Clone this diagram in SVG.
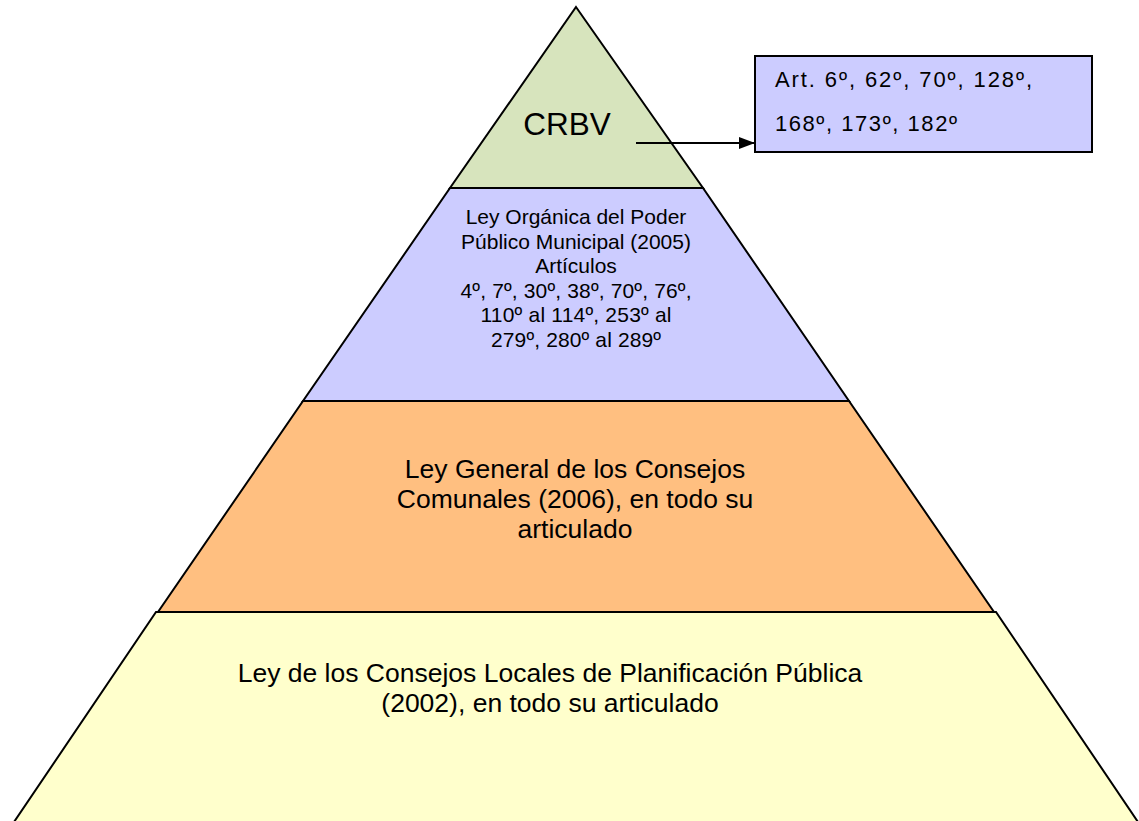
<svg xmlns="http://www.w3.org/2000/svg" width="1139" height="821" viewBox="0 0 1139 821">
<defs>
<style>
.t{font-family:"Liberation Sans",Arial,sans-serif;fill:#000}
.c{text-anchor:middle}
.s{stroke:#000;stroke-width:2;stroke-linejoin:miter}
.b{font-size:21px}
.o{font-size:26.5px}
.a{font-size:22px}
</style>
<marker id="ah" markerWidth="16" markerHeight="12" refX="16" refY="6" orient="auto" markerUnits="userSpaceOnUse">
<path d="M0,0 L16,6 L0,12 Z" fill="#000"/>
</marker>
</defs>
<rect width="1139" height="821" fill="#fff"/>
<g id="level4">
<polygon class="s" points="156,612 996,612 1138,822 14,822" fill="#FFFFCC"/>
<text class="t c o" x="550" y="682">Ley de los Consejos Locales de Planificación Pública</text>
<text class="t c o" x="550" y="712">(2002), en todo su articulado</text>
</g>
<g id="level3">
<polygon class="s" points="303,401 849,401 994,612 158,612" fill="#FFBF80"/>
<text class="t c o" x="575" y="478">Ley General de los Consejos</text>
<text class="t c o" x="575" y="508">Comunales (2006), en todo su</text>
<text class="t c o" x="575" y="538">articulado</text>
</g>
<g id="level2">
<polygon class="s" points="450,188 703,188 849,401 303,401" fill="#CCCCFF"/>
<text class="t c b" x="576" y="224">Ley Orgánica del Poder</text>
<text class="t c b" x="576" y="249">Público Municipal (2005)</text>
<text class="t c b" x="576" y="273">Artículos</text>
<text class="t c b" x="576" y="298" textLength="231" lengthAdjust="spacing">4º, 7º, 30º, 38º, 70º, 76º,</text>
<text class="t c b" x="576" y="322" textLength="191" lengthAdjust="spacing">110º al 114º, 253º al</text>
<text class="t c b" x="576" y="347" textLength="170" lengthAdjust="spacing">279º, 280º al 289º</text>
</g>
<g id="level1">
<polygon class="s" points="576,7 703,188 450,188" fill="#D7E4BD"/>
<text class="t c" x="567" y="135" font-size="31.5">CRBV</text>
</g>
<g id="articles">
<rect class="s" x="755" y="56" width="337" height="96" fill="#CCCCFF"/>
<text class="t a" x="775" y="87" textLength="257" lengthAdjust="spacing">Art. 6º, 62º, 70º, 128º,</text>
<text class="t a" x="775" y="131" textLength="182" lengthAdjust="spacing">168º, 173º, 182º</text>
</g>
<g id="connectors">
<line x1="636" y1="143" x2="755" y2="143" stroke="#000" stroke-width="2" marker-end="url(#ah)"/>
</g>
</svg>
